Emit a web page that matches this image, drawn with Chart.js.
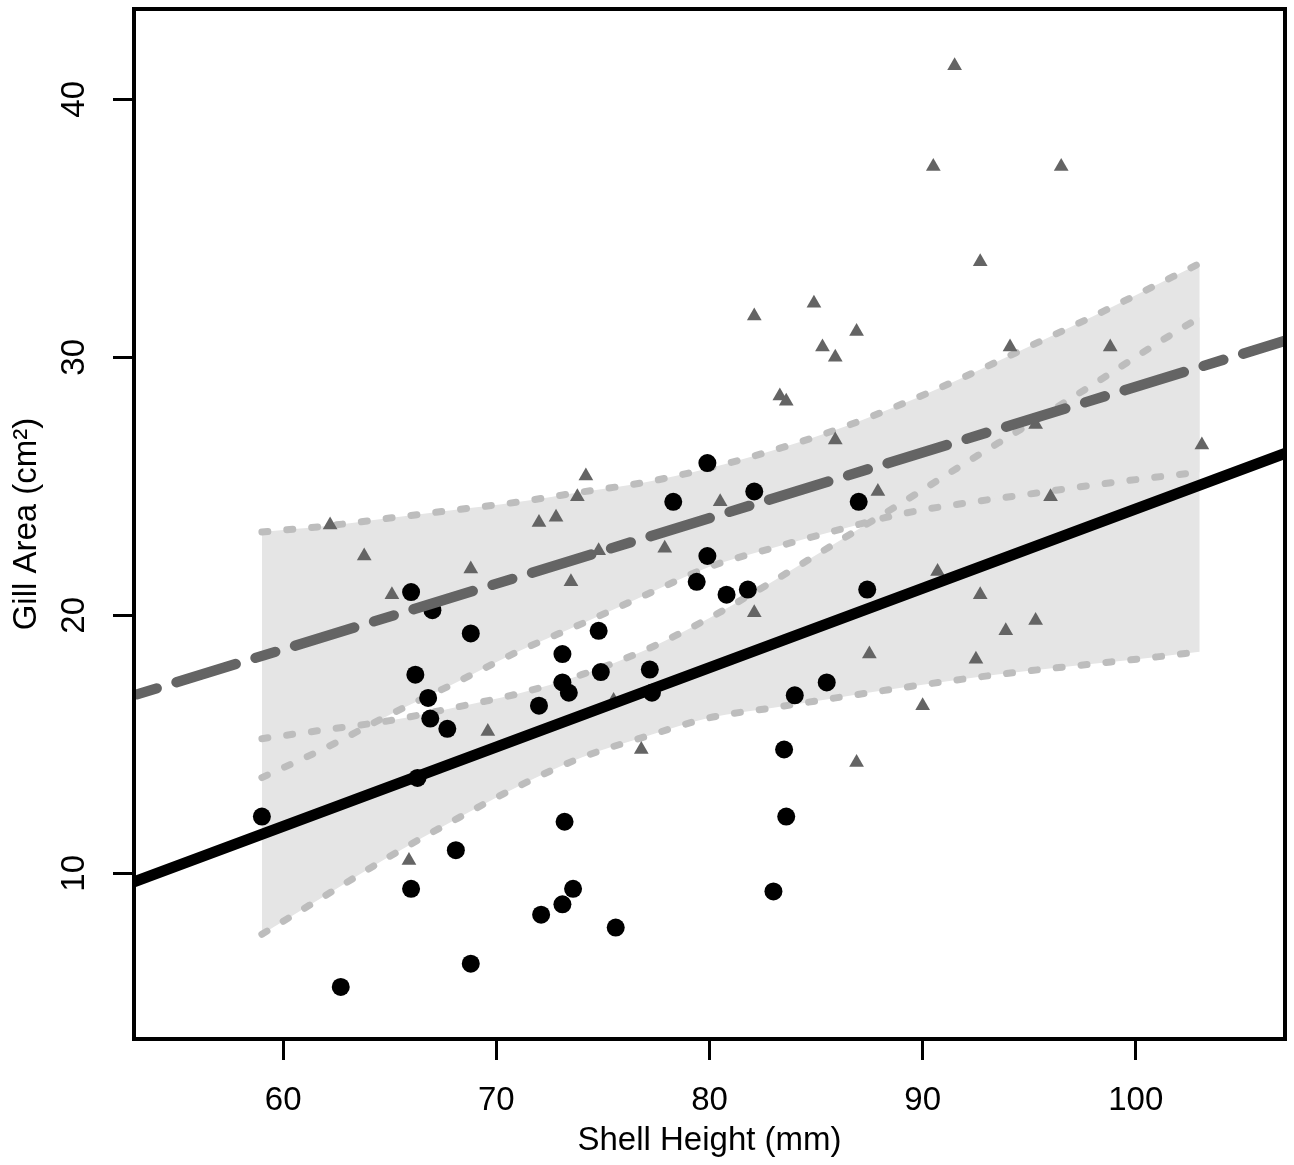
<!DOCTYPE html>
<html>
<head>
<meta charset="utf-8">
<title>Gill Area vs Shell Height</title>
<script src="https://cdn.jsdelivr.net/npm/chart.js@4"></script>
<style>
  html, body { margin: 0; padding: 0; background: #ffffff; }
  #chart { display: block; }
</style>
</head>
<body>
<canvas id="chart" width="1294" height="1165"></canvas>
<script>
// Group drawn with filled circles
const circleShell = [59.0, 62.7, 66.0, 67.0, 66.2, 66.8, 66.9, 67.7, 66.3, 66.0, 68.1, 68.8, 68.8, 72.0, 72.1, 73.1, 73.1, 73.4, 73.2, 73.1, 73.6, 74.8, 74.9, 75.6, 77.2, 77.3, 78.3, 79.4, 79.9, 79.9, 80.8, 81.8, 82.1, 83.0, 83.5, 83.6, 84.0, 85.5, 87.0, 87.4];
const circleGill = [12.2, 5.6, 20.9, 20.2, 17.7, 16.8, 16.0, 15.6, 13.7, 9.4, 10.9, 19.3, 6.5, 16.5, 8.4, 18.5, 17.4, 17.0, 12.0, 8.8, 9.4, 19.4, 17.8, 7.9, 17.9, 17.0, 24.4, 21.3, 25.9, 22.3, 20.8, 21.0, 24.8, 9.3, 14.8, 12.2, 16.9, 17.4, 24.4, 21.0];

// Group drawn with grey triangles
const triangleShell = [62.2, 63.8, 65.1, 65.9, 68.8, 69.6, 72.0, 72.8, 73.5, 73.8, 74.2, 74.8, 75.5, 76.8, 77.9, 80.5, 82.1, 82.1, 83.3, 83.6, 84.9, 85.3, 85.9, 85.9, 86.9, 86.9, 87.5, 87.9, 90.0, 90.5, 90.7, 91.5, 92.5, 92.7, 92.7, 93.9, 94.1, 95.3, 95.3, 96.0, 96.5, 98.8, 103.1];
const triangleGill = [23.5, 22.3, 20.8, 10.5, 21.8, 15.5, 23.6, 23.8, 21.3, 24.6, 25.4, 22.5, 16.7, 14.8, 22.6, 24.4, 31.6, 20.1, 28.5, 28.3, 32.1, 30.4, 30.0, 26.8, 31.0, 14.3, 18.5, 24.8, 16.5, 37.4, 21.7, 41.3, 18.3, 33.7, 20.8, 19.4, 30.4, 27.4, 19.8, 24.6, 37.4, 30.4, 26.6];

// Fitted lines (ends at the plot edges)
const lineShell = [53, 107];
const solidGill = [9.67, 26.28];
const dashedGill = [16.9, 30.64];

// Confidence bands (A = triangle fit, B = circle fit)
const bandShell = [59, 62, 65, 68, 71, 74, 77, 80, 83, 86, 89, 92, 95, 98, 101, 103];
const upperA = [23.23, 23.46, 23.77, 24.08, 24.39, 24.78, 25.16, 25.71, 26.40, 27.21, 28.18, 29.26, 30.42, 31.59, 32.82, 33.64];
const lowerA = [13.71, 14.87, 16.15, 17.35, 18.59, 19.67, 20.79, 21.88, 22.62, 23.30, 23.93, 24.35, 24.70, 25.05, 25.36, 25.55];
const upperB = [15.22, 15.57, 15.92, 16.42, 16.96, 17.70, 18.66, 19.90, 21.33, 22.84, 24.35, 25.90, 27.41, 28.95, 30.54, 31.55];
const lowerB = [7.64, 9.15, 10.66, 12.05, 13.36, 14.49, 15.30, 16.03, 16.42, 16.81, 17.19, 17.54, 17.85, 18.12, 18.39, 18.59];

// Axis ticks
const xTicks = [60, 70, 80, 90, 100];
const yTicks = [10, 20, 30, 40];

const FONT = "'Liberation Sans', Arial, Helvetica, sans-serif";
const FONT_SIZE = 33;
const BAND_FILL = "#e5e5e5";
const DOT_GREY = "#bdbdbd";
const DARK_GREY = "#646464";

/**
 * Pair x and y arrays into point objects
 */
function toPoints(xs, ys) {
  return xs.map((x, i) => ({ x: x, y: ys[i] }));
}

/**
 * Dotted band edge, optionally filled down to the next dataset
 */
function bandEdge(label, ys, filled) {
  return {
    label: label,
    data: toPoints(bandShell, ys),
    borderColor: DOT_GREY,
    borderWidth: 7,
    borderDash: [6, 19],
    borderCapStyle: "round",
    borderJoinStyle: "round",
    backgroundColor: BAND_FILL,
    fill: filled ? "+1" : false,
    cubicInterpolationMode: "monotone",
    pointRadius: 0,
    clip: 0,
    order: 2,
  };
}

// Black frame round the plot region
const plotBox = {
  id: "plotBox",
  afterDatasetsDraw(chart) {
    const { ctx, chartArea: a } = chart;
    ctx.save();
    ctx.strokeStyle = "#000000";
    ctx.lineWidth = 4;
    ctx.strokeRect(a.left, a.top, a.right - a.left, a.bottom - a.top);
    ctx.restore();
  },
};

function axisTicks(values) {
  return (scale) => {
    scale.ticks = values.map((v) => ({ value: v }));
  };
}

// Fixed axis size, and no extra room reserved for end labels
function fixSize(key, size) {
  return (scale) => {
    scale[key] = size;
    scale.paddingTop = 0;
    scale.paddingBottom = 0;
    scale.paddingLeft = 0;
    scale.paddingRight = 0;
  };
}

const tickGrid = {
  display: true,
  drawOnChartArea: false,
  drawTicks: true,
  tickLength: 21,
  tickWidth: 3,
  tickColor: "#000000",
};

const datasets = [
  bandEdge("Upper A", upperA, true),
  bandEdge("Lower A", lowerA, false),
  bandEdge("Upper B", upperB, true),
  bandEdge("Lower B", lowerB, false),
  {
    label: "Triangles",
    data: toPoints(triangleShell, triangleGill),
    showLine: false,
    pointStyle: "triangle",
    pointRadius: 8.5,
    pointBackgroundColor: DARK_GREY,
    pointBorderWidth: 0,
    order: 1,
  },
  {
    label: "Circles",
    data: toPoints(circleShell, circleGill),
    showLine: false,
    pointStyle: "circle",
    pointRadius: 9,
    pointBackgroundColor: "#000000",
    pointBorderWidth: 0,
    order: 1,
  },
  {
    label: "Dashed fit",
    data: toPoints(lineShell, dashedGill),
    borderColor: DARK_GREY,
    borderWidth: 10.33,
    borderDash: [20.67, 20.67, 62, 20.67],
    borderDashOffset: 120.9,
    borderCapStyle: "round",
    pointRadius: 0,
    fill: false,
    clip: 0,
    order: 0,
  },
  {
    label: "Solid fit",
    data: toPoints(lineShell, solidGill),
    borderColor: "#000000",
    borderWidth: 11,
    pointRadius: 0,
    fill: false,
    clip: 0,
    order: 0,
  },
];

new Chart(document.getElementById("chart"), {
  type: "line",
  data: { datasets: datasets },
  plugins: [plotBox],
  options: {
    responsive: false,
    animation: false,
    events: [],
    layout: { padding: { top: 7, right: 9, bottom: 0, left: 0 } },
    plugins: {
      legend: { display: false },
      tooltip: { enabled: false },
      filler: { drawTime: "beforeDatasetsDraw" },
    },
    scales: {
      x: {
        type: "linear",
        min: 53,
        max: 107,
        afterBuildTicks: axisTicks(xTicks),
        afterFit: fixSize("height", 126),
        border: { display: false },
        grid: tickGrid,
        ticks: {
          color: "#000000",
          font: { family: FONT, size: FONT_SIZE },
          padding: 21,
          maxRotation: 0,
          autoSkip: false,
        },
        title: {
          display: true,
          text: "Shell Height (mm)",
          color: "#000000",
          font: { family: FONT, size: FONT_SIZE },
          padding: { top: 0, bottom: 4 },
        },
      },
      y: {
        type: "linear",
        min: 3.58,
        max: 43.5,
        afterBuildTicks: axisTicks(yTicks),
        afterFit: fixSize("width", 134),
        border: { display: false },
        grid: tickGrid,
        ticks: {
          color: "#000000",
          font: { family: FONT, size: FONT_SIZE },
          padding: 19.5,
          minRotation: 90,
          maxRotation: 90,
          crossAlign: "center",
          autoSkip: false,
        },
        title: {
          display: true,
          text: "Gill Area (cm²)",
          color: "#000000",
          font: { family: FONT, size: FONT_SIZE },
          padding: { top: 7, bottom: 0 },
        },
      },
    },
  },
});
</script>
</body>
</html>
